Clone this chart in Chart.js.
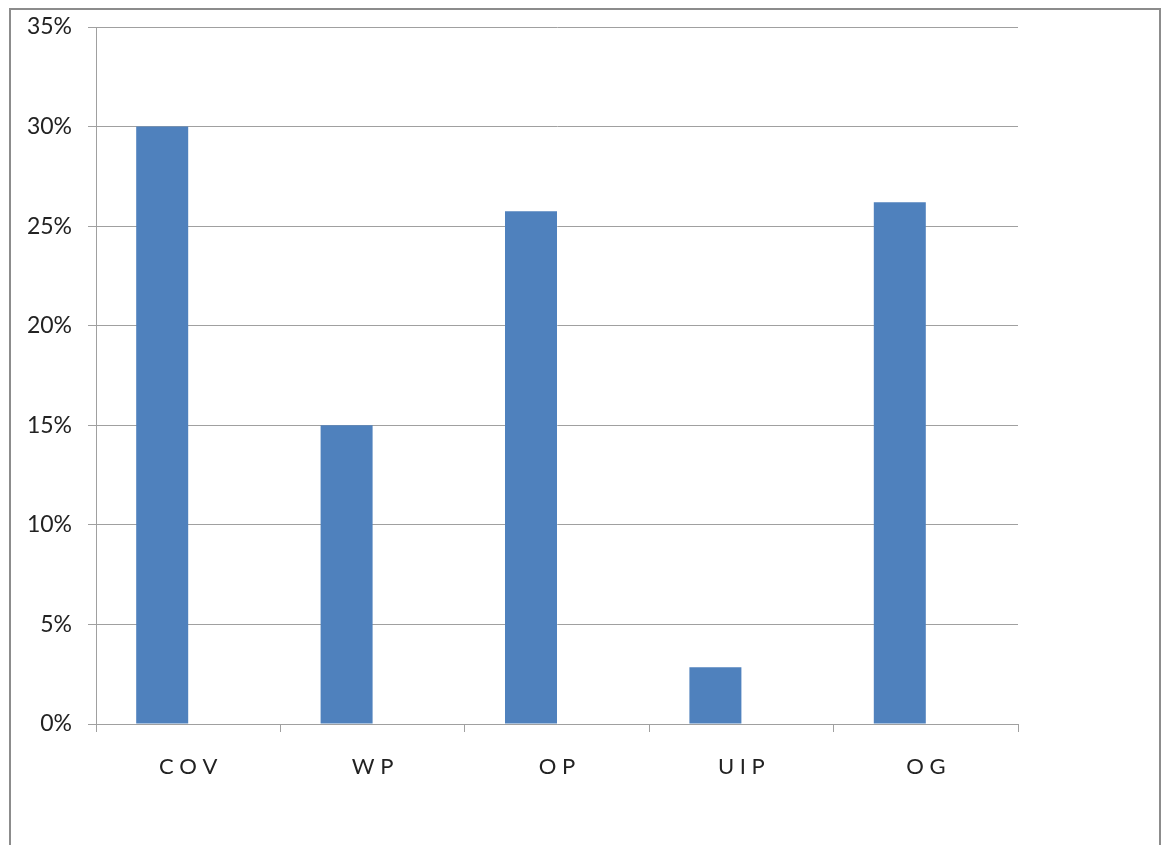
<!DOCTYPE html>
<html>
<head>
<meta charset="utf-8">
<script src="https://cdn.jsdelivr.net/npm/chart.js@4"></script>
<style>
html,body{margin:0;padding:0;background:#fff}
#wrap{position:absolute;left:0;top:0;width:1164px;height:845px}
</style>
</head>
<body>
<div id="wrap"><canvas id="chart" width="1164" height="845"></canvas></div>
<script>
// categories and values (percent)
const categories = ["C O V", "W P", "O P", "U I P", "O G"]
const values = [30, 15, 25.75, 2.85, 26.2]
const emptySeries = [null, null, null, null, null]
const yTicks = [0, 5, 10, 15, 20, 25, 30, 35]

const frame = {
  id: "frame",
  beforeDraw(c) {
    const ctx = c.ctx
    ctx.save()
    ctx.strokeStyle = "#8c8c8c"
    ctx.lineWidth = 2
    ctx.strokeRect(10, 9, 1150, 860)
    ctx.restore()
  }
}

const ctx = document.getElementById("chart").getContext("2d")

new Chart(ctx, {
  type: "bar",
  data: {
    labels: categories,
    datasets: [
      {
        data: values,
        backgroundColor: "#4f81bd",
        borderColor: "#4f81bd",
        borderWidth: 0,
        barPercentage: 1,
        categoryPercentage: 0.564
      },
      {
        data: emptySeries,
        backgroundColor: "#c0504d",
        barPercentage: 1,
        categoryPercentage: 0.564
      }
    ]
  },
  options: {
    responsive: false,
    animation: false,
    layout: { padding: { left: 0, top: 27, right: 146, bottom: 0 } },
    plugins: {
      legend: { display: false },
      tooltip: { enabled: false }
    },
    scales: {
      x: {
        offset: true,
        grid: {
          display: true,
          drawOnChartArea: false,
          offset: true,
          tickLength: 8,
          color: "#a0a0a0"
        },
        border: { color: "#a0a0a0", width: 1 },
        ticks: {
          color: "#222",
          padding: 22,
          font: { family: "Lato", size: 22 }
        },
        afterFit(s) { s.height = 121 }
      },
      y: {
        min: 0,
        max: 35,
        afterBuildTicks(s) { s.ticks = yTicks.map(v => ({ value: v })) },
        grid: {
          color: "#a0a0a0",
          tickLength: 8
        },
        border: { color: "#a0a0a0", width: 1 },
        ticks: {
          color: "#222",
          padding: 16,
          font: { family: "Lato", size: 23 },
          callback: v => v + "%"
        },
        afterFit(s) {
          s.width = 96
          s.paddingTop = 0
          s.paddingBottom = 0
        }
      }
    }
  },
  plugins: [frame]
})
</script>
</body>
</html>
